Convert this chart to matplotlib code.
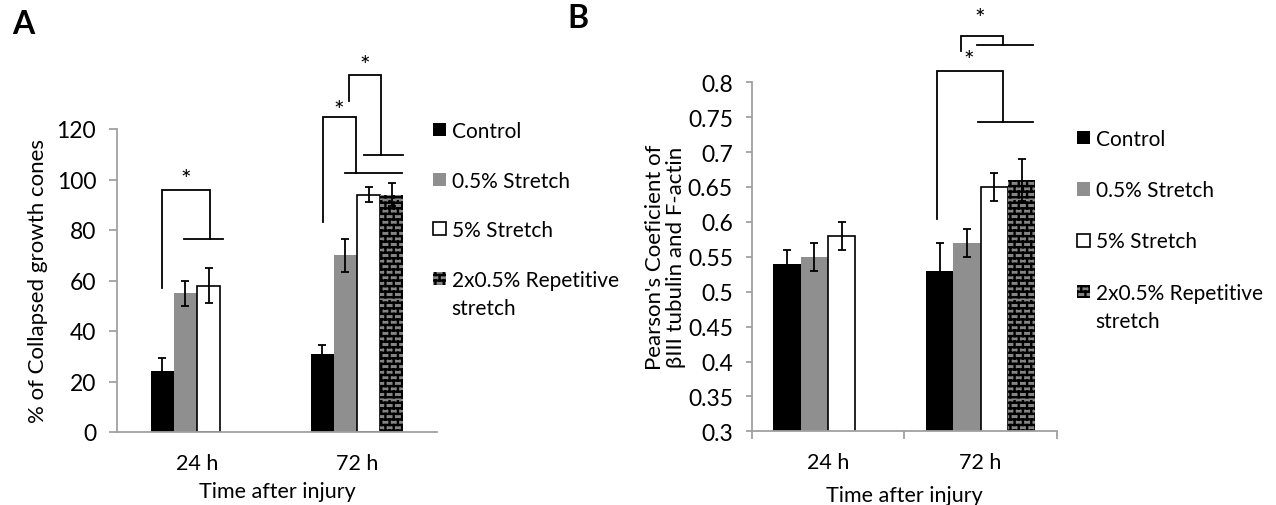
import warnings
import numpy as np
import matplotlib
matplotlib.use('Agg')
import matplotlib.pyplot as plt
import matplotlib.hatch as mhatch
from matplotlib.path import Path

warnings.filterwarnings('ignore')

# data
categories = ['24 h', '72 h']
series = ['Control', '0.5% Stretch', '5% Stretch', '2x0.5% Repetitive']
colors = ['#000000', '#8f8f8f', '#ffffff', '#858585']

collapse_mean = [[24, 31], [55, 70], [58, 94], [np.nan, 94]]
collapse_err = [[5.5, 3.5], [5, 6.5], [7, 3], [np.nan, 4.5]]

pearson_mean = [[0.54, 0.53], [0.55, 0.57], [0.58, 0.65], [np.nan, 0.66]]
pearson_err = [[0.02, 0.04], [0.02, 0.02], [0.02, 0.02], [np.nan, 0.03]]

# significance brackets: (path x, path y, bar x, bar y, star x, star y)
sig_a = [
    ([-0.217, -0.217, 0.079, 0.079], [57, 96, 96, 76.5], [-0.079, 0.16], 76.5, -0.072, 100),
    ([0.787, 0.787, 0.991, 0.991], [83.2, 124.8, 124.8, 102.7], [0.928, 1.28], 102.7, 0.885, 127.5),
    ([0.947, 0.947, 1.148, 1.148], [131, 141.3, 141.3, 109.6], [1.045, 1.29], 109.6, 1.047, 145),
]
sig_b = [
    ([0.711, 0.711, 1.145, 1.145], [0.604, 0.816, 0.816, 0.743], [0.982, 1.341], 0.743, 0.925, 0.831),
    ([0.870, 0.870, 1.145, 1.145], [0.845, 0.867, 0.867, 0.854], [0.976, 1.341], 0.854, 0.993, 0.891),
]


# brick hatch pattern ('b')
class BrickHatch(mhatch.HatchPatternBase):
    def __init__(self, hatch, density):
        n = hatch.count('b')
        self.rows = 18 * n
        self.cols = 12 * n
        self.num_vertices = (self.rows + self.rows * self.cols) * 2 if n else 0

    def set_vertices_and_codes(self, vertices, codes):
        k = 0
        h = 1.0 / self.rows
        for i in range(self.rows):
            y = (i + 0.5) * h
            vertices[k] = (0, y)
            vertices[k + 1] = (1, y)
            k += 2
            off = 0.5 / self.cols if i % 2 else 0.0
            for j in range(self.cols):
                x = (j + 0.25) / self.cols + off
                vertices[k] = (x, y)
                vertices[k + 1] = (x, y + h)
                k += 2
        codes[0::2] = Path.MOVETO
        codes[1::2] = Path.LINETO


mhatch._hatch_types.append(BrickHatch)

plt.rcParams['font.family'] = ['Lato', 'DejaVu Sans']
plt.rcParams['hatch.linewidth'] = 1.7

fig = plt.figure(figsize=(12.76, 5.06), dpi=100)
W, H = 1276, 506

ax_a = fig.add_axes([117 / W, 1 - 433 / H, 320 / W, 303 / H])
ax_b = fig.add_axes([751.7 / W, 1 - 432.3 / H, 305.3 / W, 349 / H])


def draw_panel(ax, means, errs, width, capsize):
    x = np.arange(len(categories))
    bars = []
    for i, name in enumerate(series):
        pos = x + (i - 1.5) * width
        if i == 3:
            b = ax.bar(pos, means[i], width, color=colors[i], edgecolor='#000000',
                       linewidth=0, hatch='b', label=name)
        elif i == 2:
            b = ax.bar(pos, means[i], width, color=colors[i], edgecolor='black',
                       linewidth=1.2, label=name)
        else:
            b = ax.bar(pos, means[i], width, color=colors[i], linewidth=0, label=name)
        ax.errorbar(pos, means[i], yerr=errs[i], fmt='none', ecolor='black',
                    elinewidth=1.3, capsize=capsize, capthick=1.3)
        bars.append(b)
    ax.set_xlim(-0.5, 1.5)
    ax.set_xticks(x)
    ax.set_xticklabels(categories, fontsize=15.5)
    ax.tick_params(axis='x', length=0, pad=15)
    ax.tick_params(axis='y', labelsize=16.5, color='#999999', width=1.2)
    for s in ['top', 'right']:
        ax.spines[s].set_visible(False)
    for s in ['left', 'bottom']:
        ax.spines[s].set_color('#a0a0a0')
        ax.spines[s].set_linewidth(1.3)
    ax.set_xlabel('Time after injury', fontsize=15.5, labelpad=6)
    return bars


def draw_sig(ax, sigs):
    for px, py, hx, hy, sx, sy in sigs:
        ax.plot(px, py, color='black', lw=1.3, clip_on=False, solid_joinstyle='miter')
        ax.plot(hx, [hy, hy], color='black', lw=1.3, clip_on=False)
        ax.text(sx, sy, '*', ha='center', va='center', fontsize=18, clip_on=False)


def add_legend(ax, bars, x_fig, y_fig, spacing):
    leg = ax.legend(bars, series, loc='upper left', bbox_to_anchor=(x_fig, y_fig),
                    bbox_transform=fig.transFigure, frameon=False, fontsize=15,
                    handlelength=0.6, handleheight=0.6, handletextpad=0.3,
                    labelspacing=spacing, borderpad=0, borderaxespad=0)
    return leg


# panel A
bars_a = draw_panel(ax_a, collapse_mean, collapse_err, 0.145, 3)
ax_a.set_ylim(0, 120)
ax_a.set_yticks(np.arange(0, 121, 20))
ax_a.tick_params(axis='y', length=6, pad=9)
ax_a.set_ylabel('% of Collapsed growth cones', fontsize=16, labelpad=6)
draw_sig(ax_a, sig_a)
leg_a = add_legend(ax_a, bars_a, 433 / W, 1 - 122 / H, 1.42)

# panel B
bars_b = draw_panel(ax_b, pearson_mean, pearson_err, 0.179, 3)
ax_b.set_ylim(0.3, 0.8)
yt = np.round(np.arange(0.3, 0.801, 0.05), 2)
ax_b.set_yticks(yt)
ax_b.set_yticklabels([('%g' % v) for v in yt])
ax_b.tick_params(axis='y', length=4.5, pad=9)
ax_b.set_xticks([-0.5, 0.5, 1.5], minor=True)
ax_b.tick_params(axis='x', which='minor', length=6, color='#a0a0a0', width=1.3)
ax_b.set_ylabel("Pearson's Coeficient of\n\u03b2III tubulin and F-actin", fontsize=16,
                labelpad=1, linespacing=1.1)
ax_b.xaxis.labelpad = 9
draw_sig(ax_b, sig_b)
leg_b = add_legend(ax_b, bars_b, 1077 / W, 1 - 130 / H, 1.5)

# second line of the last legend label
fig.canvas.draw()
for leg in (leg_a, leg_b):
    bb = leg.get_texts()[3].get_window_extent()
    fig.text(bb.x0 / W, (bb.y0 - 28) / H, 'stretch', fontsize=15, ha='left', va='bottom')

fig.text(12 / W, 1 - 25 / H, 'A', fontsize=23, fontweight='bold', va='center')
fig.text(567 / W, 1 - 19 / H, 'B', fontsize=23, fontweight='bold', va='center')

fig.savefig('out.png', dpi=100)
